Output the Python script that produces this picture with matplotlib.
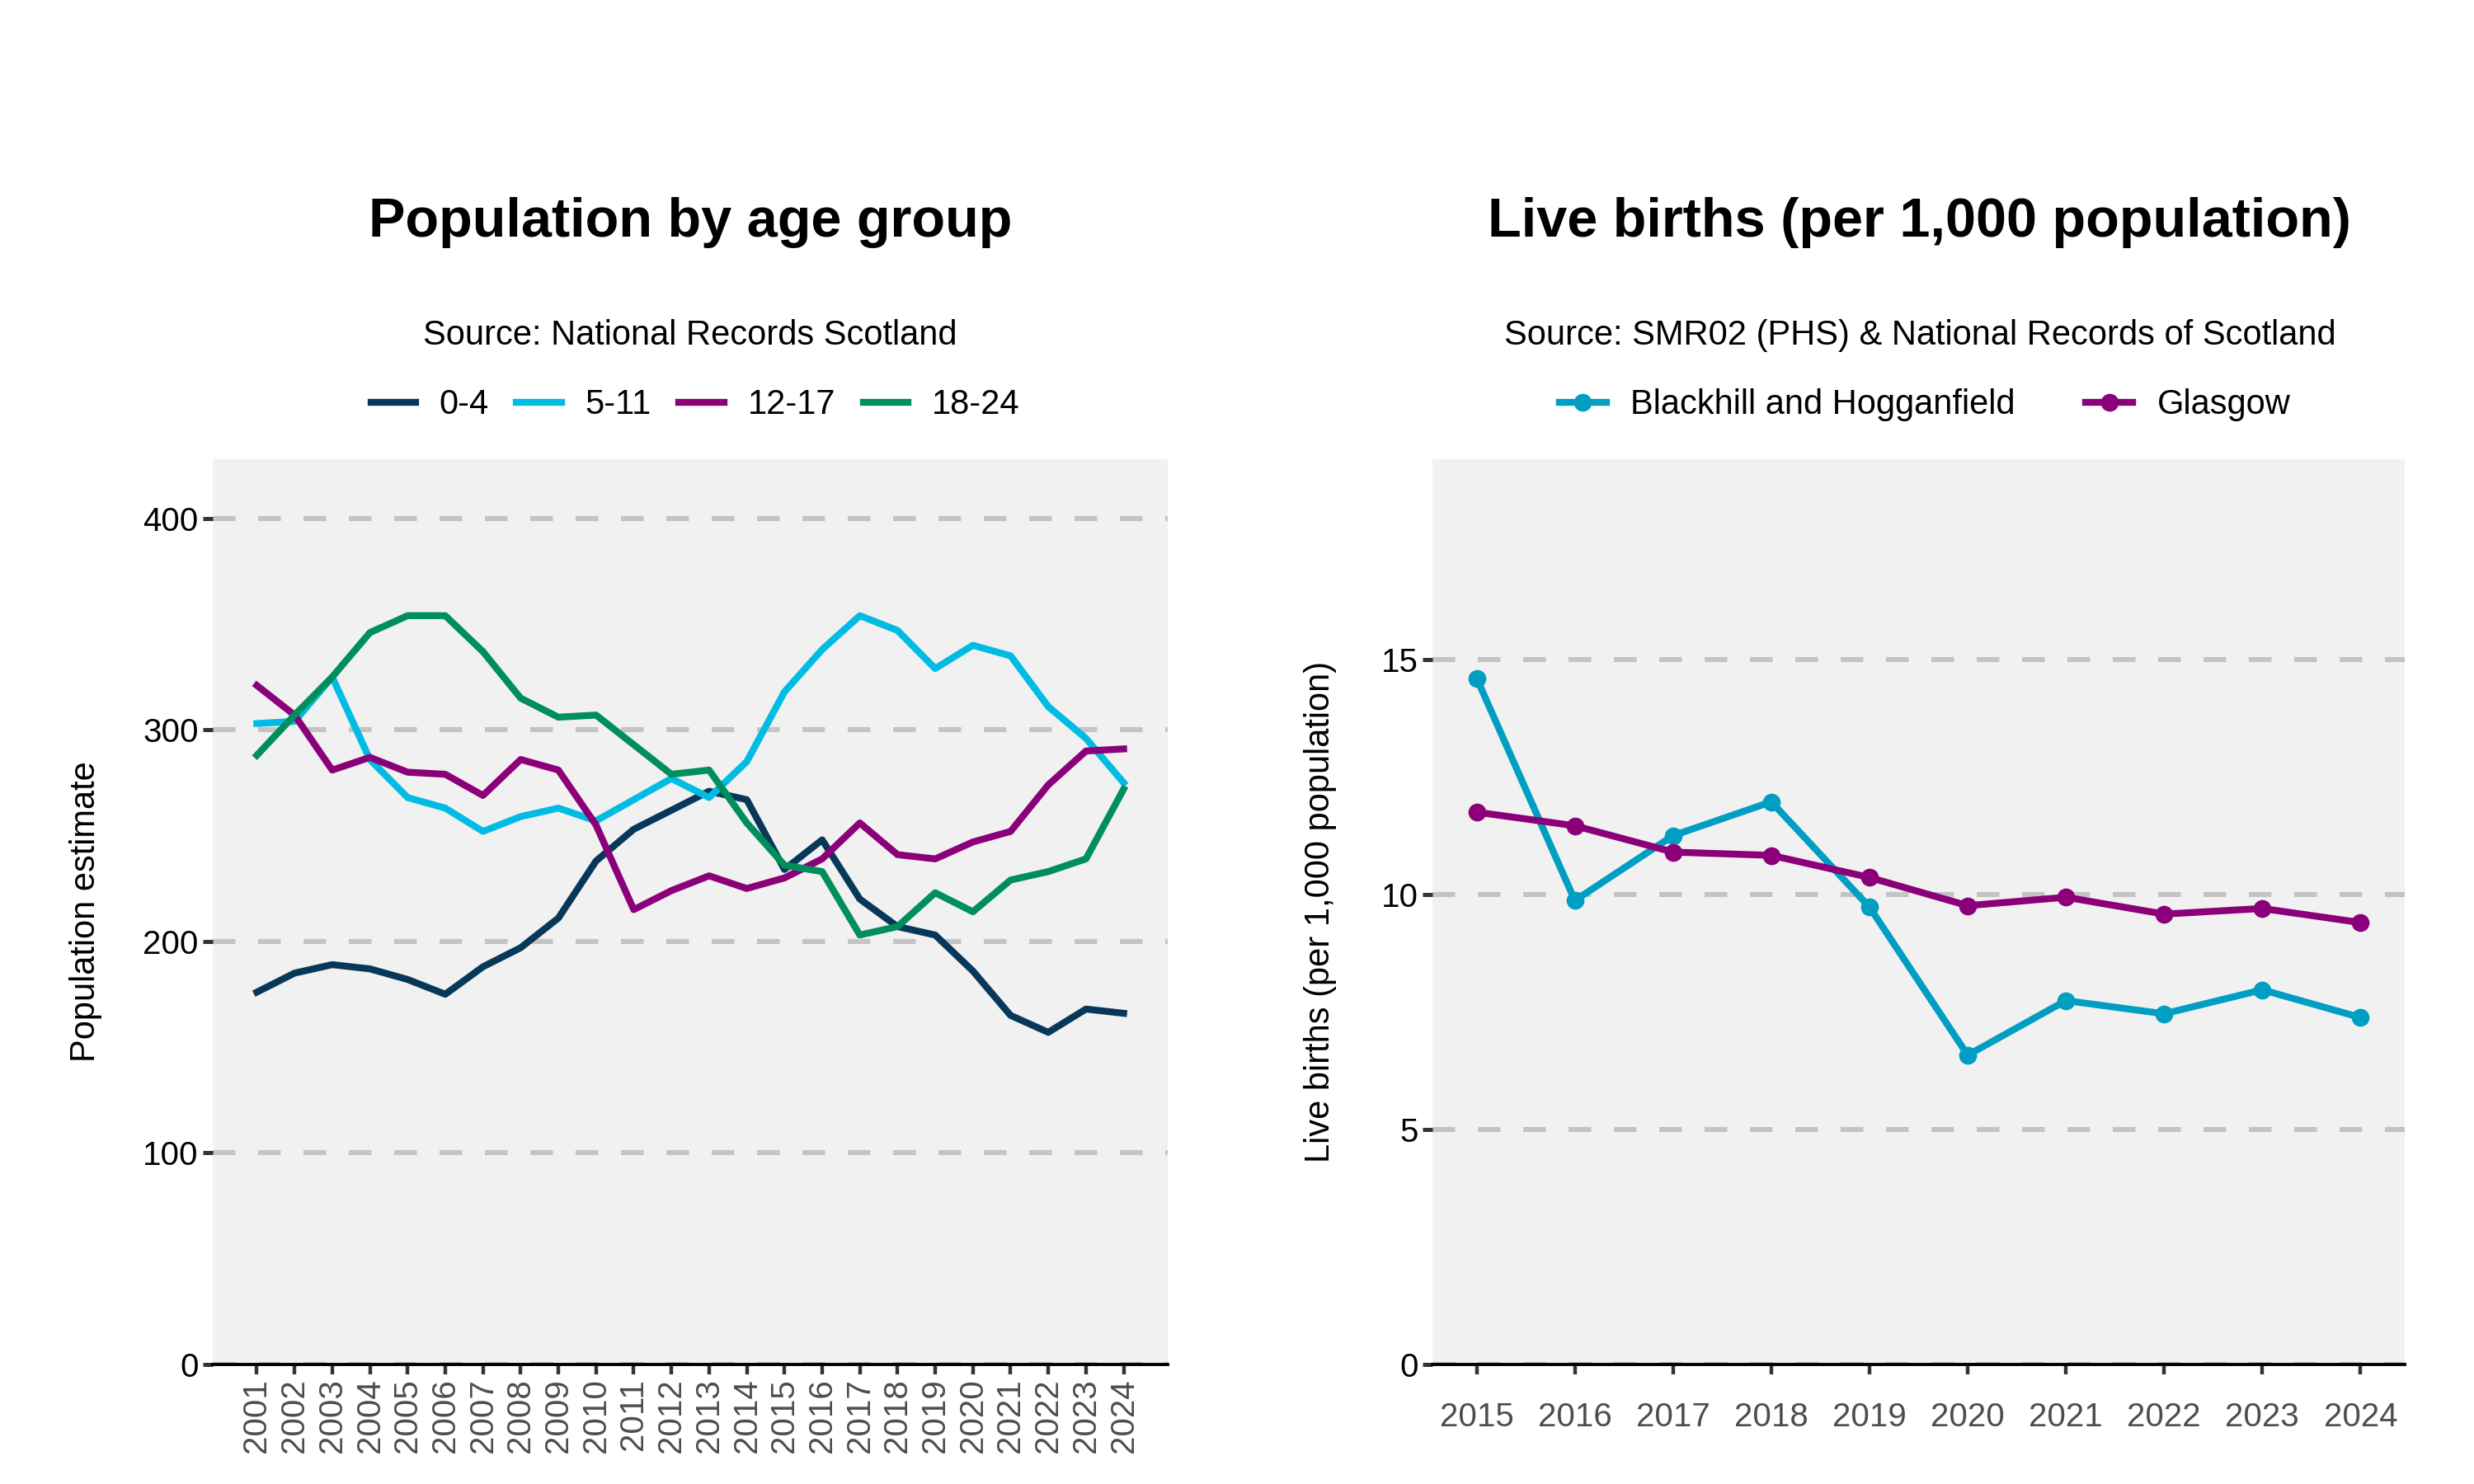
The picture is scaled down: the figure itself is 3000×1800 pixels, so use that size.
import numpy as np
import matplotlib
matplotlib.use("Agg")
import matplotlib.pyplot as plt
from matplotlib.lines import Line2D

plt.rcParams['font.family'] = ['Liberation Sans', 'DejaVu Sans']

# Population by age group (left panel)
years_pop = list(range(2001, 2025))
pop_0_4 = [176, 185, 189, 187, 182, 175, 188, 197, 211, 238, 253, 262, 271, 267,
           234, 248, 220, 207, 203, 186, 165, 157, 168, 166]
pop_5_11 = [303, 304, 325, 286, 268, 263, 252, 259, 263, 257, 267, 277, 268, 285,
            318, 338, 354, 347, 329, 340, 335, 311, 296, 275]
pop_12_17 = [321, 307, 281, 287, 280, 279, 269, 286, 281, 255, 215, 224, 231, 225,
             230, 239, 256, 241, 239, 247, 252, 274, 290, 291]
pop_18_24 = [288, 307, 325, 346, 354, 354, 337, 315, 306, 307, 293, 279, 281, 256,
             236, 233, 203, 207, 223, 214, 229, 233, 239, 272]
age_labels = ["0-4", "5-11", "12-17", "18-24"]
age_colors = ["#07385A", "#00BCE3", "#8B0079", "#008F5C"]

# Live births (right panel)
years_births = list(range(2015, 2025))
births_blackhill = [14.6, 9.87, 11.25, 11.97, 9.73, 6.58, 7.74, 7.46, 7.97, 7.38]
births_glasgow = [11.75, 11.46, 10.90, 10.83, 10.36, 9.76, 9.94, 9.58, 9.70, 9.40]
area_labels = ["Blackhill and Hogganfield", "Glasgow"]
area_colors = ["#009EC2", "#8B0079"]

fig = plt.figure(figsize=(15, 9), dpi=200)
bg = "#F1F1F1"
grid_col = "#C4C4C4"
lw = 3.0


def style_axes(ax):
    ax.set_facecolor(bg)
    for s in ["left", "right", "top"]:
        ax.spines[s].set_visible(False)
    ax.spines["bottom"].set_color("black")
    ax.spines["bottom"].set_linewidth(1.4)
    ax.spines["bottom"].set_zorder(5)
    ax.yaxis.grid(True, linestyle=(0, (4.5, 4.5)), color=grid_col, linewidth=2.2)
    ax.set_axisbelow(True)
    ax.tick_params(axis="y", length=4.3, width=1.8, color="#333333", labelsize=14.5,
                   labelcolor="black", pad=2)
    ax.tick_params(axis="x", length=4.3, width=1.6, color="#333333", labelsize=14.5,
                   labelcolor="#4D4D4D")


# left panel
ax1 = fig.add_axes([0.086, 0.0806, 0.386, 0.61])
style_axes(ax1)
series = [pop_0_4, pop_5_11, pop_12_17, pop_18_24]
for vals, lab, col in zip(series, age_labels, age_colors):
    ax1.plot(years_pop, vals, color=col, linewidth=lw, label=lab)
ax1.set_xlim(1999.83, 2025.17)
ax1.set_ylim(0, 428)
ax1.set_yticks([0, 100, 200, 300, 400])
ax1.set_xticks(years_pop)
ax1.set_xticklabels([str(y) for y in years_pop], rotation=90)
ax1.tick_params(axis="x", pad=2)
ax1.set_ylabel("Population estimate", fontsize=15)
ax1.yaxis.set_label_coords(-0.116, 0.5)

fig.text(0.279, 0.85, "Population by age group", ha="center", va="center",
         fontsize=24, fontweight="bold")
fig.text(0.279, 0.774, "Source: National Records Scotland", ha="center", va="center",
         fontsize=15)
handles1 = [Line2D([0], [0], color=c, linewidth=lw) for c in age_colors]
fig.legend(handles1, age_labels, loc="center", bbox_to_anchor=(0.281, 0.727), ncol=4,
           frameon=False, fontsize=15, handlelength=1.3, columnspacing=0.8,
           handletextpad=0.7)

# right panel
ax2 = fig.add_axes([0.579, 0.0806, 0.393, 0.61])
style_axes(ax2)
for vals, lab, col in zip([births_blackhill, births_glasgow], area_labels, area_colors):
    ax2.plot(years_births, vals, color=col, linewidth=lw, marker="o", markersize=6.8,
             label=lab)
ax2.set_xlim(2014.55, 2024.45)
ax2.set_ylim(0, 19.26)
ax2.set_yticks([0, 5, 10, 15])
ax2.set_xticks(years_births)
ax2.tick_params(axis="x", pad=12)
ax2.set_ylabel("Live births (per 1,000 population)", fontsize=15)
ax2.yaxis.set_label_coords(-0.098, 0.5)

fig.text(0.776, 0.85, "Live births (per 1,000 population)", ha="center", va="center",
         fontsize=24, fontweight="bold")
fig.text(0.776, 0.774, "Source: SMR02 (PHS) & National Records of Scotland", ha="center",
         va="center", fontsize=15)
handles2 = [Line2D([0], [0], color=c, linewidth=lw, marker="o", markersize=6.8)
            for c in area_colors]
fig.legend(handles2, area_labels, loc="center", bbox_to_anchor=(0.778, 0.727), ncol=2,
           frameon=False, fontsize=15, handlelength=1.37, columnspacing=2.06,
           handletextpad=0.7)

fig.savefig("out.png", dpi=200, facecolor="white")
